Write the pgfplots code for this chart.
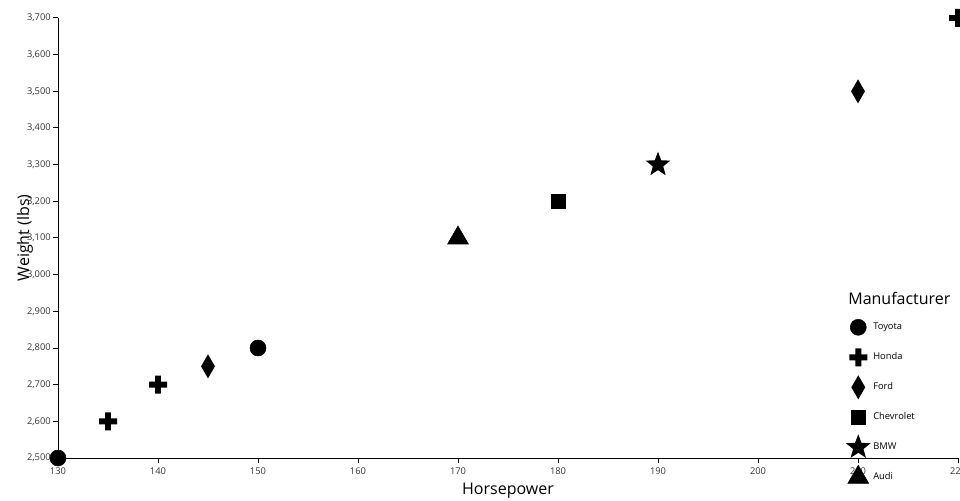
\documentclass[border=0pt]{standalone}
\usepackage{fontspec}
\setmainfont{Open Sans}
\usepackage{pgfplots}
\pgfplotsset{compat=1.18}
\newdimen\mR \newdimen\ma
\pgfdeclareplotmark{fplus}{%
 \mR=\pgfplotmarksize\relax \ma=0.33\mR\relax
 \pgfpathmoveto{\pgfqpoint{\ma}{\mR}}%
 \pgfpathlineto{\pgfqpoint{\ma}{\ma}}%
 \pgfpathlineto{\pgfqpoint{\mR}{\ma}}%
 \pgfpathlineto{\pgfqpoint{\mR}{-\ma}}%
 \pgfpathlineto{\pgfqpoint{\ma}{-\ma}}%
 \pgfpathlineto{\pgfqpoint{\ma}{-\mR}}%
 \pgfpathlineto{\pgfqpoint{-\ma}{-\mR}}%
 \pgfpathlineto{\pgfqpoint{-\ma}{-\ma}}%
 \pgfpathlineto{\pgfqpoint{-\mR}{-\ma}}%
 \pgfpathlineto{\pgfqpoint{-\mR}{\ma}}%
 \pgfpathlineto{\pgfqpoint{-\ma}{\ma}}%
 \pgfpathlineto{\pgfqpoint{-\ma}{\mR}}%
 \pgfpathclose\pgfusepathqfill}
\pgfdeclareplotmark{fdiamond}{%
 \mR=\pgfplotmarksize\relax \ma=0.58\mR\relax
 \pgfpathmoveto{\pgfqpoint{0pt}{\mR}}%
 \pgfpathlineto{\pgfqpoint{\ma}{0pt}}%
 \pgfpathlineto{\pgfqpoint{0pt}{-\mR}}%
 \pgfpathlineto{\pgfqpoint{-\ma}{0pt}}%
 \pgfpathclose\pgfusepathqfill}
\pgfdeclareplotmark{fstar}{%
 \mR=\pgfplotmarksize\relax \ma=0.42\mR\relax
 \pgfpathmoveto{\pgfpointpolar{90}{\mR}}%
 \pgfpathlineto{\pgfpointpolar{126}{\ma}}%
 \pgfpathlineto{\pgfpointpolar{162}{\mR}}%
 \pgfpathlineto{\pgfpointpolar{198}{\ma}}%
 \pgfpathlineto{\pgfpointpolar{234}{\mR}}%
 \pgfpathlineto{\pgfpointpolar{270}{\ma}}%
 \pgfpathlineto{\pgfpointpolar{306}{\mR}}%
 \pgfpathlineto{\pgfpointpolar{342}{\ma}}%
 \pgfpathlineto{\pgfpointpolar{18}{\mR}}%
 \pgfpathlineto{\pgfpointpolar{54}{\ma}}%
 \pgfpathclose\pgfusepathqfill}
\begin{document}
\begin{tikzpicture}
\useasboundingbox (0,0) rectangle (720pt,375pt);
\begin{axis}[
  at={(43.5pt,31.5pt)}, anchor=south west,
  scale only axis, width=675pt, height=330pt,
  xmin=130, xmax=220, ymin=2500, ymax=3700,
  axis lines=left, axis line style={-, black, line width=0.75pt},
  clip=false,
  xtick={130,140,...,220}, ytick={2500,2600,...,3700},
  scaled y ticks=false,
  tick align=outside, major tick length=3.75pt,
  tick style={black, line width=0.75pt},
  /pgf/number format/assume math mode=true,
  tick label style={font=\fontsize{7}{8}\selectfont, text=black!80},
  yticklabel style={/pgf/number format/.cd, 1000 sep={,}, /tikz/inner sep=1.5pt},
  xticklabel style={inner sep=1.5pt, yshift=-1.5pt},
  xlabel={Horsepower}, ylabel={Weight (lbs)},
  label style={font=\fontsize{12}{14}\selectfont},
  xlabel style={at={(axis description cs:0.5,-0.084)}, anchor=base},
  ylabel style={at={(axis description cs:-0.0322,0.5)}, anchor=base, rotate=0},
  legend cell align=left,
  legend image code/.code={%
    \pgfpathrectangle{\pgfqpoint{0pt}{-4pt}}{\pgfqpoint{6pt}{8pt}}\pgfusepath{discard}%
    \draw[only marks,#1,overlay] plot coordinates {(0pt,0pt)};},
  legend style={at={(0.8889,0.3098)}, anchor=north west, draw=none, fill=none,
    inner sep=0pt, row sep=14.5pt, column sep=5.25pt,
    font=\fontsize{7}{8}\selectfont,
    nodes={inner sep=0pt, text height=5pt, text depth=1.5pt}},
]
\addplot[only marks, mark=*, mark size=6pt, black] coordinates {(130,2500) (150,2800)};
\addlegendentry{Toyota}
\addplot[only marks, mark=fplus, mark size=6.75pt, black] coordinates {(135,2600) (140,2700) (220,3700)};
\addlegendentry{Honda}
\addplot[only marks, mark=fdiamond, mark size=9pt, black] coordinates {(145,2750) (210,3500)};
\addlegendentry{Ford}
\addplot[only marks, mark=square*, mark size=5.25pt, black] coordinates {(180,3200)};
\addlegendentry{Chevrolet}
\addplot[only marks, mark=fstar, mark size=9.75pt, black] coordinates {(190,3300)};
\addlegendentry{BMW}
\addplot[only marks, mark=triangle*, mark size=9pt, black] coordinates {(170,3100)};
\addlegendentry{Audi}
\node[anchor=west, font=\fontsize{12}{14}\selectfont, inner sep=0pt] at (rel axis cs:0.8778,0.3636) {Manufacturer};
\end{axis}
\end{tikzpicture}
\end{document}
